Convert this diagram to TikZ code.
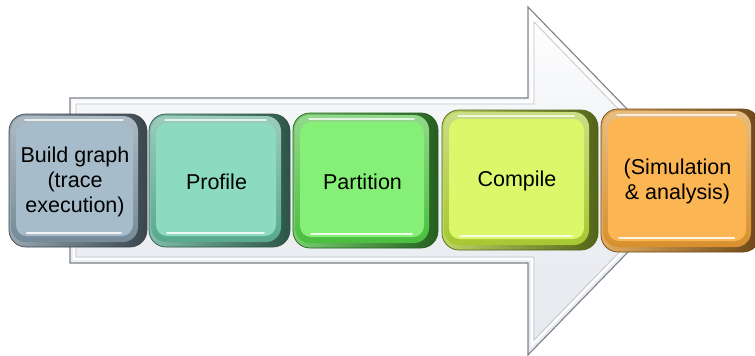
\documentclass[tikz,border=0pt]{standalone}
\usepackage{fontspec}
\setmainfont{Liberation Sans}
\begin{document}
\begin{tikzpicture}[x=1pt,y=-1pt,
  steplabel/.style={align=center, font=\fontsize{21.5}{25}\selectfont, text=black}]
\definecolor{arrowfill}{HTML}{E6E9EE}
\definecolor{arrowedge}{HTML}{7E8288}
\definecolor{f1}{HTML}{A6BCCA}\definecolor{r1}{HTML}{758B99}
\definecolor{f2}{HTML}{8CDBC0}\definecolor{r2}{HTML}{58A98E}
\definecolor{f3}{HTML}{86EF77}\definecolor{r3}{HTML}{4BBE3F}
\definecolor{f4}{HTML}{DCF86A}\definecolor{r4}{HTML}{A6C832}
\definecolor{f5}{HTML}{FBB552}\definecolor{r5}{HTML}{D8902D}
\useasboundingbox (0,0) rectangle (755,356);

% big background arrow
\coordinate (tip) at (697,181);
\shade[top color=white, bottom color=arrowfill, middle color=arrowfill!70!white]
  (70,98) -- (528,98) -- (528,7) -- (tip) -- (528,355) -- (528,263) -- (70,263) -- cycle;
\draw[arrowedge, line width=1.1, line join=miter]
  (70,98) -- (528,98) -- (528,7) -- (tip) -- (528,355) -- (528,263) -- (70,263) -- cycle;
\draw[white, line width=2.2]
  (74,102) -- (532,102) -- (532,17) -- (691,181) -- (532,345) -- (532,259) -- (74,259) -- cycle;
\draw[black!22, line width=0.8]
  (76,104) -- (534,104) -- (534,22) -- (688,181) -- (534,340) -- (534,257) -- (76,257) -- cycle;

% bevelled step box: name, x1, y1, x2, y2, face colour, rim colour, text
\newcommand\bevelbox[8]{%
  \shade[rounded corners=17, left color=#7!75!white, right color=#7!50!black]
    (#2,#3) rectangle (#4,#5);
  \shade[rounded corners=15, top color=#7!60!white, bottom color=#7]
    ({#2+2},{#3+2}) rectangle ({#4-9},{#5-5});
  \fill[#6, rounded corners=11]
    ({#2+7},{#3+9}) rectangle ({#4-14},{#5-11});
  \draw[white, opacity=.75, line width=1.6, line cap=round]
    ({#2+16},{#3+6}) -- ({#4-24},{#3+6});
  \draw[white, opacity=.85, line width=2, line cap=round]
    ({#2+18},{#5-14}) -- ({#4-26},{#5-14});
  \draw[#7!50!black, line width=0.7, rounded corners=17]
    (#2,#3) rectangle (#4,#5);
  \node[steplabel] (#1) at ({(#2+#4)/2-3},{(#3+#5)/2+1}) {#8};
}

\bevelbox{build}{9}{114}{147}{247}{f1}{r1}{Build graph\\(trace\\execution)}
\bevelbox{profile}{149}{114}{290}{247}{f2}{r2}{Profile}
\bevelbox{partition}{293}{113}{438}{248}{f3}{r3}{Partition}
\bevelbox{compile}{442}{110}{598}{250}{f4}{r4}{Compile}
\bevelbox{simulate}{601}{109}{760}{252}{f5}{r5}{(Simulation\\\& analysis)}
\end{tikzpicture}
\end{document}
